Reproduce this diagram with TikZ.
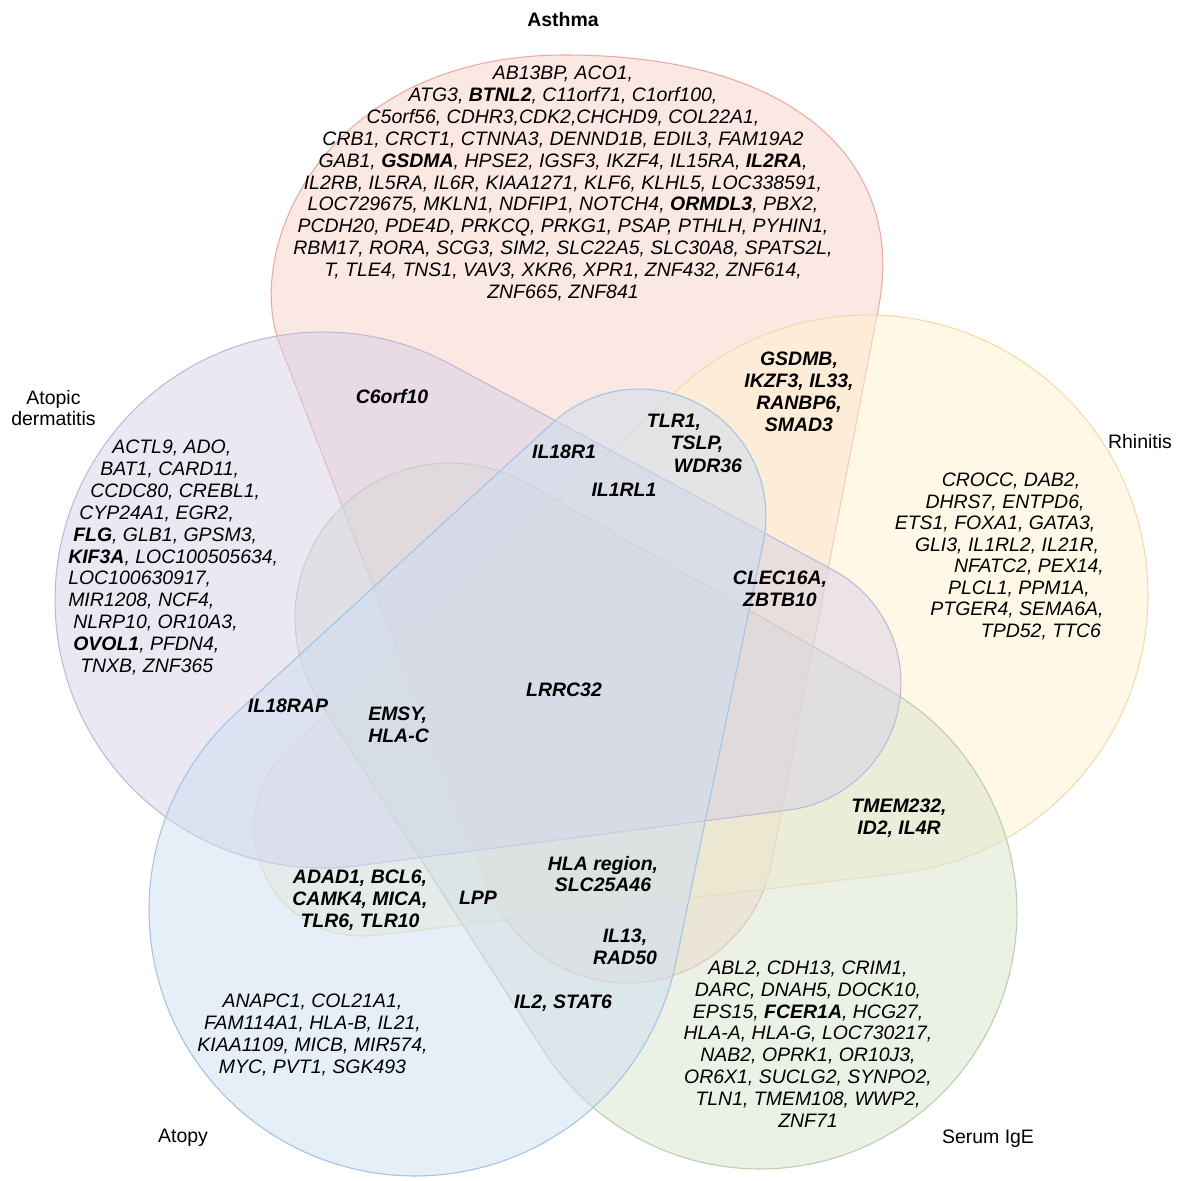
\documentclass[tikz,border=0pt]{standalone}
\usepackage{fontspec}
\setmainfont{Liberation Sans}
\definecolor{cR}{RGB}{247,209,197}
\definecolor{cP}{RGB}{215,207,231}
\definecolor{cY}{RGB}{255,241,205}
\definecolor{cB}{RGB}{205,221,241}
\definecolor{cG}{RGB}{217,227,205}
\definecolor{lR}{RGB}{234,172,160}
\definecolor{lP}{RGB}{192,184,216}
\definecolor{lY}{RGB}{240,220,168}
\definecolor{lB}{RGB}{162,196,228}
\definecolor{lG}{RGB}{186,206,172}
\newcommand{\gf}{\fontsize{14.6pt}{16.4pt}\selectfont}
\newcommand{\eggshape}[7]{%
  \pgfmathsetmacro\eggd{100*veclen((#5-#2)/100,(#6-#3)/100)}%
  \pgfmathsetmacro\eggt{atan2(#6-#3,#5-#2)}%
  \pgfmathsetmacro\eggb{acos((#4-#7)/\eggd)}%
  \pgfmathsetmacro\eggA{\eggt-\eggb}%
  \pgfmathsetmacro\eggB{\eggt+\eggb}%
  \pgfmathsetmacro\eggC{\eggt-\eggb+360}%
  \path[#1] plot[domain=\eggA:\eggB,samples=40] ({#5+#7*cos(\x)},{#6+#7*sin(\x)})
    -- plot[domain=\eggB:\eggC,samples=110] ({#2+#4*cos(\x)},{#3+#4*sin(\x)}) -- cycle;%
}
\newcommand{\redshape}[1]{%
  \path[#1] (280,345) .. controls (242,248) and (325,55) .. (565,55)
    .. controls (805,55) and (907,170) .. (878,310) -- (771.4,863.3)
    -- plot[domain=10.7:158.85,samples=40] ({627+147*cos(\x)},{836+147*sin(\x)}) -- cycle;%
}
\tikzset{
  gene/.style={font=\gf\itshape, inner sep=0pt, align=center},
  key/.style={font=\gf\bfseries\itshape, inner sep=0pt, align=center},
  setlab/.style={font=\gf, inner sep=0pt, align=center},
  setR/.style={fill=cR, fill opacity=0.5, draw=lR, line width=0.8pt},
  setP/.style={fill=cP, fill opacity=0.5, draw=lP, line width=0.8pt},
  setY/.style={fill=cY, fill opacity=0.5, draw=lY, line width=0.8pt},
  setB/.style={fill=cB, fill opacity=0.5, draw=lB, line width=0.8pt},
  setG/.style={fill=cG, fill opacity=0.5, draw=lG, line width=0.8pt},
}
\begin{document}
\begin{tikzpicture}[x=0.75pt,y=-0.75pt]
\useasboundingbox (0,0) rectangle (1180,1181);
% the five sets, each filled and outlined in turn
\redshape{setR}
\eggshape{setY}{868}{595}{280}{362}{828}{108}
\eggshape{setG}{760}{912}{257}{450}{618}{155}
\eggshape{setP}{323}{600}{268}{773}{683}{128}
\eggshape{setB}{415}{910}{266}{639}{516}{127}
% set labels
\node[setlab, font=\gf\bfseries] (asthma) at (563,20) {Asthma};
\node[setlab] (adlab) at (53.5,408) {Atopic\\dermatitis};
\node[setlab] (rhlab) at (1140,442) {Rhinitis};
\node[setlab] (atlab) at (183,1138) {Atopy};
\node[setlab] (iglab) at (988,1139) {Serum IgE};
% asthma only
\node[gene] (alist) at (563,183.5) {AB13BP, ACO1,\\
ATG3, \textbf{BTNL2}, C11orf71, C1orf100,\\
C5orf56, CDHR3,CDK2,CHCHD9, COL22A1,\\
CRB1, CRCT1, CTNNA3, DENND1B, EDIL3, FAM19A2\\
GAB1, \textbf{GSDMA}, HPSE2, IGSF3, IKZF4, IL15RA, \textbf{IL2RA},\\
IL2RB, IL5RA, IL6R, KIAA1271, KLF6, KLHL5, LOC338591,\\
LOC729675, MKLN1, NDFIP1, NOTCH4, \textbf{ORMDL3}, PBX2,\\
PCDH20, PDE4D, PRKCQ, PRKG1, PSAP, PTHLH, PYHIN1,\\
RBM17, RORA, SCG3, SIM2, SLC22A5, SLC30A8, SPATS2L,\\
T, TLE4, TNS1, VAV3, XKR6, XPR1, ZNF432, ZNF614,\\
ZNF665, ZNF841};
% AD only
\node[gene, anchor=west] (ad1) at (112,448) {ACTL9, ADO,};
\node[gene, anchor=west] (ad2) at (100,469.9) {BAT1, CARD11,};
\node[gene, anchor=west] (ad3) at (90,491.8) {CCDC80, CREBL1,};
\node[gene, anchor=west] (ad4) at (79,513.7) {CYP24A1, EGR2,};
\node[gene, anchor=west] (ad5) at (73,535.6) {\textbf{FLG}, GLB1, GPSM3,};
\node[gene, anchor=west] (ad6) at (68,557.5) {\textbf{KIF3A}, LOC100505634,};
\node[gene, anchor=west] (ad7) at (68,579.4) {LOC100630917,};
\node[gene, anchor=west] (ad8) at (68,601.3) {MIR1208, NCF4,};
\node[gene, anchor=west] (ad9) at (73,623.2) {NLRP10, OR10A3,};
\node[gene, anchor=west] (ad10) at (73,645.1) {\textbf{OVOL1}, PFDN4,};
\node[gene, anchor=west] (ad11) at (80,667) {TNXB, ZNF365};
% rhinitis only
\node[gene] (rh1) at (1011,481) {CROCC, DAB2,};
\node[gene] (rh2) at (1005,502.5) {DHRS7, ENTPD6,};
\node[gene] (rh3) at (995,524) {ETS1, FOXA1, GATA3,};
\node[gene] (rh4) at (1007,545.5) {GLI3, IL1RL2, IL21R,};
\node[gene] (rh5) at (1029,567) {NFATC2, PEX14,};
\node[gene] (rh6) at (1019,588.5) {PLCL1, PPM1A,};
\node[gene] (rh7) at (1017,610) {PTGER4, SEMA6A,};
\node[gene] (rh8) at (1041,631.5) {TPD52, TTC6};
% atopy only
\node[gene] (atl) at (312.5,1035) {ANAPC1, COL21A1,\\FAM114A1, HLA-B, IL21,\\KIAA1109, MICB, MIR574,\\MYC, PVT1, SGK493};
% IgE only
\node[gene] (igl) at (808,1044) {ABL2, CDH13, CRIM1,\\DARC, DNAH5, DOCK10,\\EPS15, \textbf{FCER1A}, HCG27,\\HLA-A, HLA-G, LOC730217,\\NAB2, OPRK1, OR10J3,\\OR6X1, SUCLG2, SYNPO2,\\TLN1, TMEM108, WWP2,\\ZNF71};
% overlaps
\node[key] (c6) at (392,397) {C6orf10};
\node[key] (gsd) at (799,392) {GSDMB,\\IKZF3, IL33,\\RANBP6,\\SMAD3};
\node[key] (tlr1) at (674,422) {TLR1,};
\node[key] (tslp) at (697,444) {TSLP,};
\node[key] (wdr) at (708,466) {WDR36};
\node[key] (il18r1) at (564,452) {IL18R1};
\node[key] (il1rl1) at (624,490) {IL1RL1};
\node[key] (clec) at (780,589) {CLEC16A,\\ZBTB10};
\node[key] (il18rap) at (288,706) {IL18RAP};
\node[key, align=left, anchor=west] (emsy) at (368,724.5) {EMSY,\\HLA-C};
\node[key] (lrrc) at (564,690) {LRRC32};
\node[key] (tmem) at (899,818) {TMEM232,\\ID2, IL4R};
\node[key] (adad) at (360,900) {ADAD1, BCL6,\\CAMK4, MICA,\\TLR6, TLR10};
\node[key] (lpp) at (478,898) {LPP};
\node[key] (hla) at (603,874) {HLA region,\\SLC25A46};
\node[key] (il13) at (625,947) {IL13,\\RAD50};
\node[key] (il2) at (563,1003) {IL2, STAT6};
\end{tikzpicture}
\end{document}
